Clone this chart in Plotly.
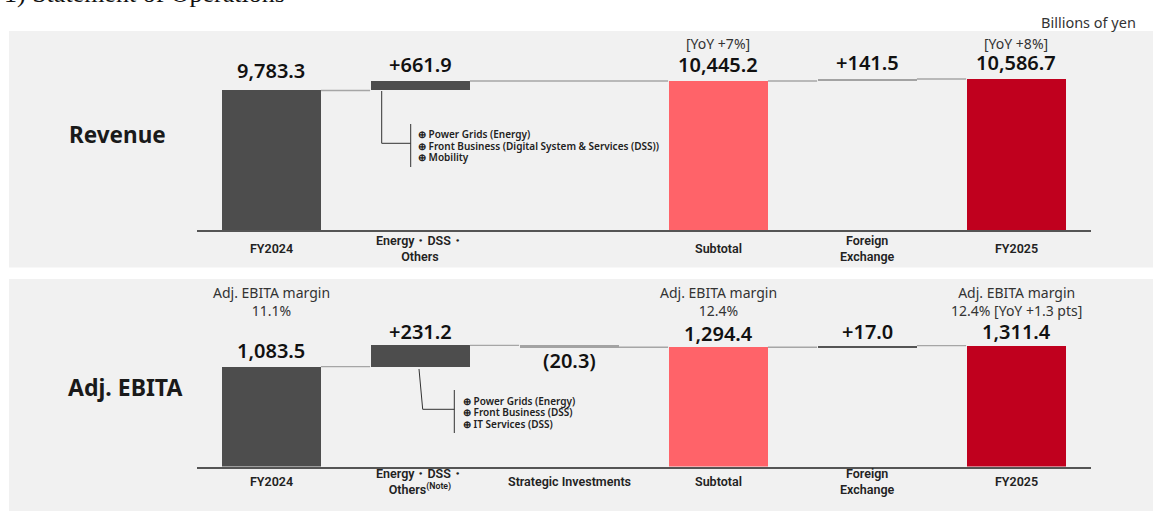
import plotly.graph_objects as go

W, H = 1153, 511

# ---------------- data ----------------
positions = [0, 1, 2, 3, 4, 5]
rev_categories = ["FY2024", "Energy・DSS・<br>Others", "", "Subtotal", "Foreign<br>Exchange", "FY2025"]
ebita_categories = ["FY2024", "Energy・DSS・<br>Others<sup>(Note)</sup>", "Strategic Investments",
                    "Subtotal", "Foreign<br>Exchange", "FY2025"]

rev_values = [9783.3, 661.9, None, 10445.2, 141.5, 10586.7]
rev_measures = ["absolute", "relative", None, "total", "relative", "total"]
rev_labels = ["9,783.3", "+661.9", "", "10,445.2", "+141.5", "10,586.7"]
rev_notes = ["", "", "", "[YoY +7%]", "", "[YoY +8%]"]

ebita_values = [1083.5, 231.2, -20.3, 1294.4, 17.0, 1311.4]
ebita_measures = ["absolute", "relative", "relative", "total", "relative", "total"]
ebita_labels = ["1,083.5", "+231.2", "(20.3)", "1,294.4", "+17.0", "1,311.4"]
ebita_notes = ["Adj. EBITA margin<br>11.1%", "", "", "Adj. EBITA margin<br>12.4%", "",
               "Adj. EBITA margin<br>12.4% [YoY +1.3 pts]"]

rev_breakdown = ["⊕ Power Grids (Energy)",
                 "⊕ Front Business (Digital System & Services (DSS))",
                 "⊕ Mobility"]
ebita_breakdown = ["⊕ Power Grids (Energy)",
                   "⊕ Front Business (DSS)",
                   "⊕ IT Services (DSS)"]

# ---------------- styles ----------------
rev_colors = ["#4d4d4d", "#4d4d4d", None, "#ff6369", "#a3a3a3", "#c0001e"]
ebita_colors = ["#4d4d4d", "#4d4d4d", "#a3a3a3", "#ff6369", "#555555", "#c0001e"]
PANEL = "#f1f1f1"
CONN = "#a6a6a6"
FONT = "Noto Sans"


def px(x):
    return x / W


def py(y):
    return 1 - y / H


def waterfall(values, measures):
    bases, heights, ends = [], [], []
    running = 0.0
    for v, m in zip(values, measures):
        if v is None:
            bases.append(None); heights.append(None); ends.append(None)
            continue
        if m == "absolute" or m == "total":
            bases.append(0.0); heights.append(v); running = v
        else:
            if v >= 0:
                bases.append(running); heights.append(v)
            else:
                bases.append(running + v); heights.append(-v)
            running += v
        ends.append(running)
    return bases, heights, ends


BW = 0.67
fig = go.Figure()

x_dom = [196.5 / W, 1090.5 / W]
panels = {
    "rev": dict(top=31, bottom=267.5, axis0=230.3, scale=151.3 / 10586.7, xa="x", ya="y"),
    "ebita": dict(top=279, bottom=511, axis0=466.5, scale=120.8 / 1311.4, xa="x2", ya="y2"),
}

shapes = []
annotations = []

for key, values, measures, colors, labels, notes, cats, note_y, lab_y in [
    ("rev", rev_values, rev_measures, rev_colors, rev_labels, rev_notes, rev_categories, 43.5, 248),
    ("ebita", ebita_values, ebita_measures, ebita_colors, ebita_labels, ebita_notes, ebita_categories, 301, 481),
]:
    p = panels[key]
    bases, heights, ends = waterfall(values, measures)
    idx = [i for i in positions if values[i] is not None]
    fig.add_trace(go.Bar(
        x=[positions[i] for i in idx], y=[heights[i] for i in idx], base=[bases[i] for i in idx],
        marker=dict(color=[colors[i] for i in idx], line=dict(width=0)),
        width=BW, xaxis=p["xa"], yaxis=p["ya"], showlegend=False, hoverinfo="skip",
    ))
    cx, cy = [], []
    for a, b in zip(idx[:-1], idx[1:]):
        cx += [positions[a] + BW / 2, positions[b] - BW / 2, None]
        cy += [ends[a], ends[a], None]
    fig.add_trace(go.Scatter(x=cx, y=cy, mode="lines", line=dict(color=CONN, width=1.3),
                             xaxis=p["xa"], yaxis=p["ya"], showlegend=False, hoverinfo="skip"))
    shapes.append(dict(type="rect", xref="paper", yref="paper", x0=px(9), x1=1,
                       y0=py(p["bottom"]), y1=py(p["top"]), fillcolor=PANEL,
                       line=dict(width=0), layer="below"))
    for i in idx:
        top = bases[i] + heights[i]
        if values[i] < 0 and measures[i] == "relative":
            annotations.append(dict(x=positions[i], y=bases[i], xref=p["xa"], yref=p["ya"],
                                    text=labels[i], showarrow=False, yanchor="middle", yshift=-13,
                                    font=dict(family=FONT, size=20, color="#111", weight=600)))
        else:
            shift = 14
            if key == "rev":
                shift = 20 if i == 0 else 17
            elif i == 0:
                shift = 16
            annotations.append(dict(x=positions[i], y=top, xref=p["xa"], yref=p["ya"],
                                    text=labels[i], showarrow=False, yanchor="middle",
                                    yshift=shift,
                                    font=dict(family=FONT, size=20, color="#111", weight=600)))
        if notes[i]:
            annotations.append(dict(x=positions[i], y=py(note_y), xref=p["xa"], yref="paper",
                                    text=notes[i], showarrow=False, yanchor="middle",
                                    font=dict(family=FONT, size=14, color="#333")))
    for i in positions:
        if cats[i]:
            annotations.append(dict(x=positions[i], y=py(lab_y), xref=p["xa"], yref="paper",
                                    text=cats[i], showarrow=False, yanchor="middle",
                                    font=dict(family="Roboto", size=12.5, color="#222", weight=600)))

# left titles
annotations.append(dict(x=px(67), y=py(134), xref="paper", yref="paper", text="Revenue",
                        showarrow=False, xanchor="left", yanchor="middle",
                        font=dict(family=FONT, size=22.5, color="#1a1a1a", weight=700)))
annotations.append(dict(x=px(66), y=py(387), xref="paper", yref="paper", text="Adj. EBITA",
                        showarrow=False, xanchor="left", yanchor="middle",
                        font=dict(family=FONT, size=23, color="#1a1a1a", weight=700)))

# unit and cut-off heading
annotations.append(dict(x=px(1138), y=py(22.5), xref="paper", yref="paper", text="Billions of yen",
                        showarrow=False, xanchor="right", yanchor="middle",
                        font=dict(family=FONT, size=14.5, color="#333")))
annotations.append(dict(x=px(2), y=py(10), xref="paper", yref="paper", text="1) Statement of Operations",
                        showarrow=False, xanchor="left", yanchor="bottom",
                        font=dict(family="Liberation Serif", size=26, color="#111")))

# breakdown call-outs
for lines, x0, ys in [(rev_breakdown, 416, [134.3, 145.7, 157.3]),
                      (ebita_breakdown, 461, [400.7, 412.2, 423.6])]:
    for text, yy in zip(lines, ys):
        annotations.append(dict(x=px(x0), y=py(yy), xref="paper", yref="paper",
                                text=text, showarrow=False, xanchor="left", yanchor="middle",
                                font=dict(family=FONT, size=10, color="#222", weight=600)))


def path(pts):
    return "M " + " L ".join(f"{px(x)},{py(y)}" for x, y in pts)


for pts in [[(381.7, 91), (381.7, 143.3), (410.7, 143.3)], [(410.7, 124), (410.7, 167)],
            [(419, 369), (422.7, 409.3), (454.3, 409.3)], [(454.3, 390), (454.3, 433)]]:
    shapes.append(dict(type="path", xref="paper", yref="paper", path=path(pts),
                       line=dict(color="#333", width=1)))

axis_common = dict(range=[-0.5, 5.5], domain=x_dom, showticklabels=False, showgrid=False,
                   zeroline=False, showline=True, linecolor="#555", linewidth=1.5, ticks="",
                   fixedrange=True)


def yaxis_for(p):
    top_val = (p["axis0"] - p["top"]) / p["scale"]
    return dict(range=[0, top_val], domain=[py(p["axis0"]), py(p["top"])], showticklabels=False,
                showgrid=False, zeroline=False, showline=False, fixedrange=True)


fig.update_layout(
    width=W, height=H, margin=dict(l=0, r=0, t=0, b=0),
    paper_bgcolor="white", plot_bgcolor="rgba(0,0,0,0)",
    xaxis=dict(**axis_common, anchor="y"),
    yaxis=yaxis_for(panels["rev"]) | dict(anchor="x"),
    xaxis2=dict(**axis_common, anchor="y2"),
    yaxis2=yaxis_for(panels["ebita"]) | dict(anchor="x2"),
    shapes=shapes, annotations=annotations, bargap=0, showlegend=False,
)

fig.write_html("out.html")
